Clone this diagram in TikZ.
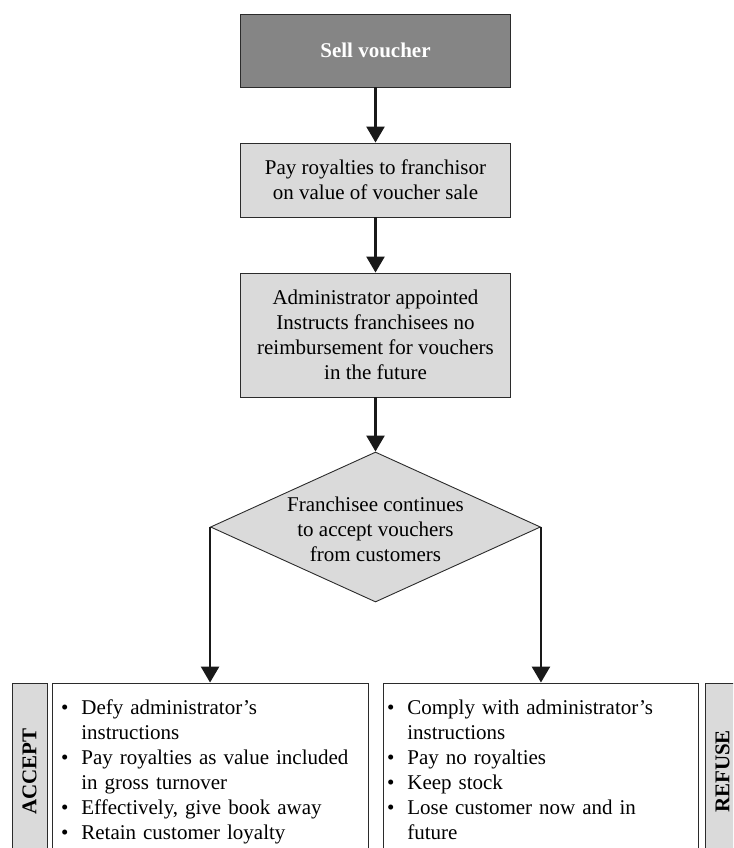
\documentclass[tikz,border=0pt]{standalone}
\usepackage{fontspec}
\setmainfont{Liberation Serif}
\usetikzlibrary{arrows.meta,shapes.geometric,positioning,calc}

\definecolor{darkbox}{HTML}{858585}
\definecolor{lightbox}{HTML}{DADADA}
\definecolor{edge}{HTML}{2B2B2B}

\begin{document}
\begin{tikzpicture}[x=1pt,y=-1pt]
    \useasboundingbox (0,0) rectangle (733,848);
    \clip (0,0) rectangle (733,848);

    \tikzset{every node/.style={font=\fontsize{21}{25}\selectfont},
        box/.style={draw=edge,line width=0.9pt,fill=lightbox,minimum width=270pt,align=center,inner sep=0pt},
        side/.style={box,rotate=90,minimum width=177pt,minimum height=35pt,font=\fontsize{21}{25}\selectfont\bfseries},
        flow/.style={line width=2.6pt,draw=black!90,-{Triangle[length=16pt,width=18pt]}}}

    % main column
    \node[box,fill=darkbox,text=white,font=\fontsize{21}{25}\selectfont\bfseries,minimum height=73pt] at (375.5,50.5) (sell) {Sell voucher};
    \node[box,minimum height=74pt] at (375.5,180) (pay) {Pay royalties to franchisor\\on value of voucher sale};
    \node[box,minimum height=124pt] at (375.5,335) (admin) {Administrator appointed\\Instructs franchisees no\\reimbursement for vouchers\\in the future};
    \node[box,shape=diamond,aspect=2.2,minimum width=330pt,minimum height=150pt] at (375.5,527) (cont) {%
        \smash{\raisebox{-10pt}{\begin{tabular}{@{}c@{}}Franchisee continues\\to accept vouchers\\from customers\end{tabular}}}};

    % outcomes
    \node[box,fill=white,minimum width=316pt,minimum height=177pt,text width=298pt,align=left] at (210,771.5) (acc) {%
        \begin{tabular}{@{}l@{\hspace{13pt}}l@{}}
            \textbullet & Defy administrator’s\\
                        & instructions\\
            \textbullet & Pay royalties as value included\\
                        & in gross turnover\\
            \textbullet & Effectively, give book away\\
            \textbullet & Retain customer loyalty
        \end{tabular}};
    \node[box,fill=white,minimum width=315pt,minimum height=177pt,text width=307pt,align=left] at (540.5,771.5) (ref) {%
        \begin{tabular}{@{}l@{\hspace{13pt}}l@{}}
            \textbullet & Comply with administrator’s\\
                        & instructions\\
            \textbullet & Pay no royalties\\
            \textbullet & Keep stock\\
            \textbullet & Lose customer now and in\\
                        & future
        \end{tabular}};
    \node[side] at (29.5,771.5) (acclab) {ACCEPT};
    \node[side] at (722.5,771.5) (reflab) {REFUSE};

    \draw[flow] (sell) -- (pay);
    \draw[flow] (pay) -- (admin);
    \draw[flow] (admin) -- (cont);
    \draw[flow] (cont.west) -- (cont.west |- acc.north);
    \draw[flow] (cont.east) -- (cont.east |- ref.north);
\end{tikzpicture}
\end{document}
